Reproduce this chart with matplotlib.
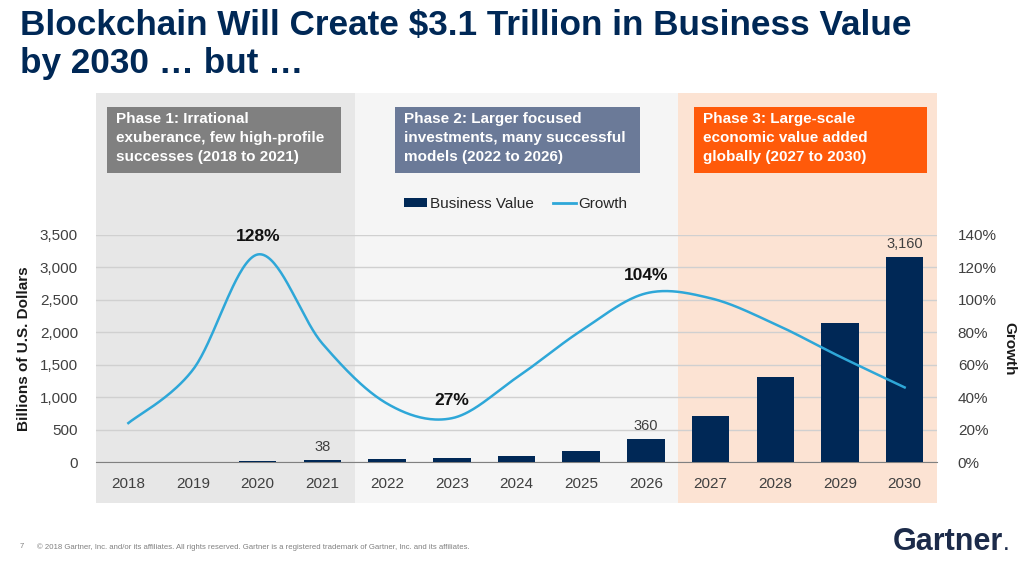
import matplotlib
matplotlib.use('Agg')
import matplotlib.pyplot as plt
from matplotlib.patches import Rectangle, Patch
from matplotlib.lines import Line2D
from matplotlib.ticker import FuncFormatter, MultipleLocator
import numpy as np

plt.rcParams['font.family'] = ['Liberation Sans', 'DejaVu Sans']

# data
years = ["2018", "2019", "2020", "2021", "2022", "2023", "2024",
         "2025", "2026", "2027", "2028", "2029", "2030"]
business_value = [3, 7, 20, 38, 42, 57, 88, 170, 360, 710, 1310, 2150, 3160]
growth = [24, 57, 128, 73, 36, 27, 52, 81, 104, 101, 85, 65, 46]
value_labels = {3: "38", 8: "360", 12: "3,160"}
growth_labels = {2: "128%", 5: "27%", 8: "104%"}

phase_text = ["Phase 1: Irrational\nexuberance, few high-profile\nsuccesses (2018 to 2021)",
              "Phase 2: Larger focused\ninvestments, many successful\nmodels (2022 to 2026)",
              "Phase 3: Large-scale\neconomic value added\nglobally (2027 to 2030)"]
phase_span = [(-0.5, 3.5), (3.5, 8.5), (8.5, 12.5)]
phase_bg = ["#e7e7e7", "#f5f5f5", "#fce3d3"]
phase_box = ["#808080", "#6b7a98", "#ff5a0a"]
phase_box_px = [(107, 341), (395, 640), (694, 927)]

NAVY = "#002856"
BLUE = "#2ea7d8"
W, H = 1024, 567


def smooth(x, y, n=40):
    # excel-style smoothed line (bezier through the points)
    pts = np.column_stack([x, y]).astype(float)
    p = np.vstack([pts[0], pts, pts[-1]])
    out = []
    t = np.linspace(0, 1, n)[:, None]
    for i in range(1, len(p) - 2):
        p0, p1, p2, p3 = p[i - 1], p[i], p[i + 1], p[i + 2]
        c1 = p1 + (p2 - p0) / 6
        c2 = p2 - (p3 - p1) / 6
        seg = (1 - t)**3 * p1 + 3 * (1 - t)**2 * t * c1 + 3 * (1 - t) * t**2 * c2 + t**3 * p2
        out.append(seg)
    return np.vstack(out)


fig = plt.figure(figsize=(10.24, 5.67), dpi=100)
fig.patch.set_facecolor("white")
ax = fig.add_axes([96 / W, 1 - 462 / H, (937 - 96) / W, 227 / H])
ax.patch.set_visible(False)
ax.set_axisbelow(True)

x = np.arange(len(years))

# phase backgrounds
for (a, b), c in zip(phase_span, phase_bg):
    ax.add_patch(Rectangle((a, -0.181), b - a, 1.807, transform=ax.get_xaxis_transform(),
                           clip_on=False, facecolor=c, edgecolor="none", zorder=-5))

ax.bar(x, business_value, width=0.58, color=NAVY, zorder=3)
for i, s in value_labels.items():
    ax.annotate(s, (x[i], business_value[i]), xytext=(0, 4), textcoords="offset points",
                ha="center", va="bottom", fontsize=10.5, color="#404040")

ax.set_xlim(-0.5, 12.5)
ax.set_ylim(0, 3500)
ax.yaxis.set_major_locator(MultipleLocator(500))
ax.yaxis.set_major_formatter(FuncFormatter(lambda v, p: f"{int(v):,}"))
ax.grid(axis="y", color="#d0d0d0", linewidth=1)
ax.set_xticks(x)
ax.set_xticklabels(years)
ax.tick_params(axis="both", length=0, labelsize=11, labelcolor="#404040")
ax.tick_params(axis="x", pad=11)
ax.tick_params(axis="y", pad=13)
for s in ["top", "right", "left"]:
    ax.spines[s].set_visible(False)
ax.spines["bottom"].set_color("#808080")
ax.set_ylabel("Billions of U.S. Dollars", fontsize=11, fontweight="bold", color="#1a1a1a", labelpad=6)

ax2 = ax.twinx()
ax2.set_ylim(0, 140)
ax2.yaxis.set_major_locator(MultipleLocator(20))
ax2.yaxis.set_major_formatter(FuncFormatter(lambda v, p: f"{int(v)}%"))
ax2.tick_params(axis="y", length=0, labelsize=11, labelcolor="#404040", pad=15)
for s in ax2.spines.values():
    s.set_visible(False)
curve = smooth(x, growth)
ax2.plot(curve[:, 0], curve[:, 1], color=BLUE, linewidth=1.8, zorder=4)
for i, s in growth_labels.items():
    ax2.annotate(s, (x[i], growth[i]), xytext=(0, 13), textcoords="offset points",
                 ha="center", va="center", fontsize=12.5, fontweight="bold", color="#111111")
ax2.set_ylabel("Growth", fontsize=11, fontweight="bold", color="#1a1a1a", rotation=-90, labelpad=14)

# phase boxes
for txt, (l, r), c in zip(phase_text, phase_box_px, phase_box):
    fig.add_artist(Rectangle((l / W, 1 - 173 / H), (r - l) / W, 66 / H, transform=fig.transFigure,
                             facecolor=c, edgecolor="none"))
    fig.text((l + 9) / W, 1 - 112 / H, txt, ha="left", va="top", fontsize=11, fontweight="bold",
             color="white", linespacing=1.45)

handles = [Patch(facecolor=NAVY), Line2D([], [], color=BLUE, linewidth=2)]
fig.legend(handles, ["Business Value", "Growth"], loc="center", bbox_to_anchor=(516 / W, 1 - 204 / H),
           ncol=2, frameon=False, fontsize=11, handlelength=1.5, handleheight=0.55,
           handletextpad=0.2, columnspacing=1.2, labelcolor="#262626")

fig.text(20 / W, 1 - 9 / H, "Blockchain Will Create $3.1 Trillion in Business Value\nby 2030 … but …",
         ha="left", va="top", fontsize=25.3, fontweight="bold", color=NAVY, linespacing=1.2,
         family=["Liberation Sans Narrow", "Liberation Sans", "DejaVu Sans"])

fig.text(20 / W, 1 - 547 / H, "7", fontsize=5.5, color="#808080", va="center")
fig.text(37 / W, 1 - 547 / H, "© 2018 Gartner, Inc. and/or its affiliates. All rights reserved. "
         "Gartner is a registered trademark of Gartner, Inc. and its affiliates.",
         fontsize=5.6, color="#808080", va="center")
fig.text(1003 / W, 1 - 550 / H, "Gartner", ha="right", va="baseline", fontsize=22, fontweight="bold",
         color="#1c2b4a")
fig.text(1004 / W, 1 - 550 / H, ".", ha="left", va="baseline", fontsize=12, fontweight="bold",
         color="#1c2b4a")

fig.savefig("out.png", dpi=100)
